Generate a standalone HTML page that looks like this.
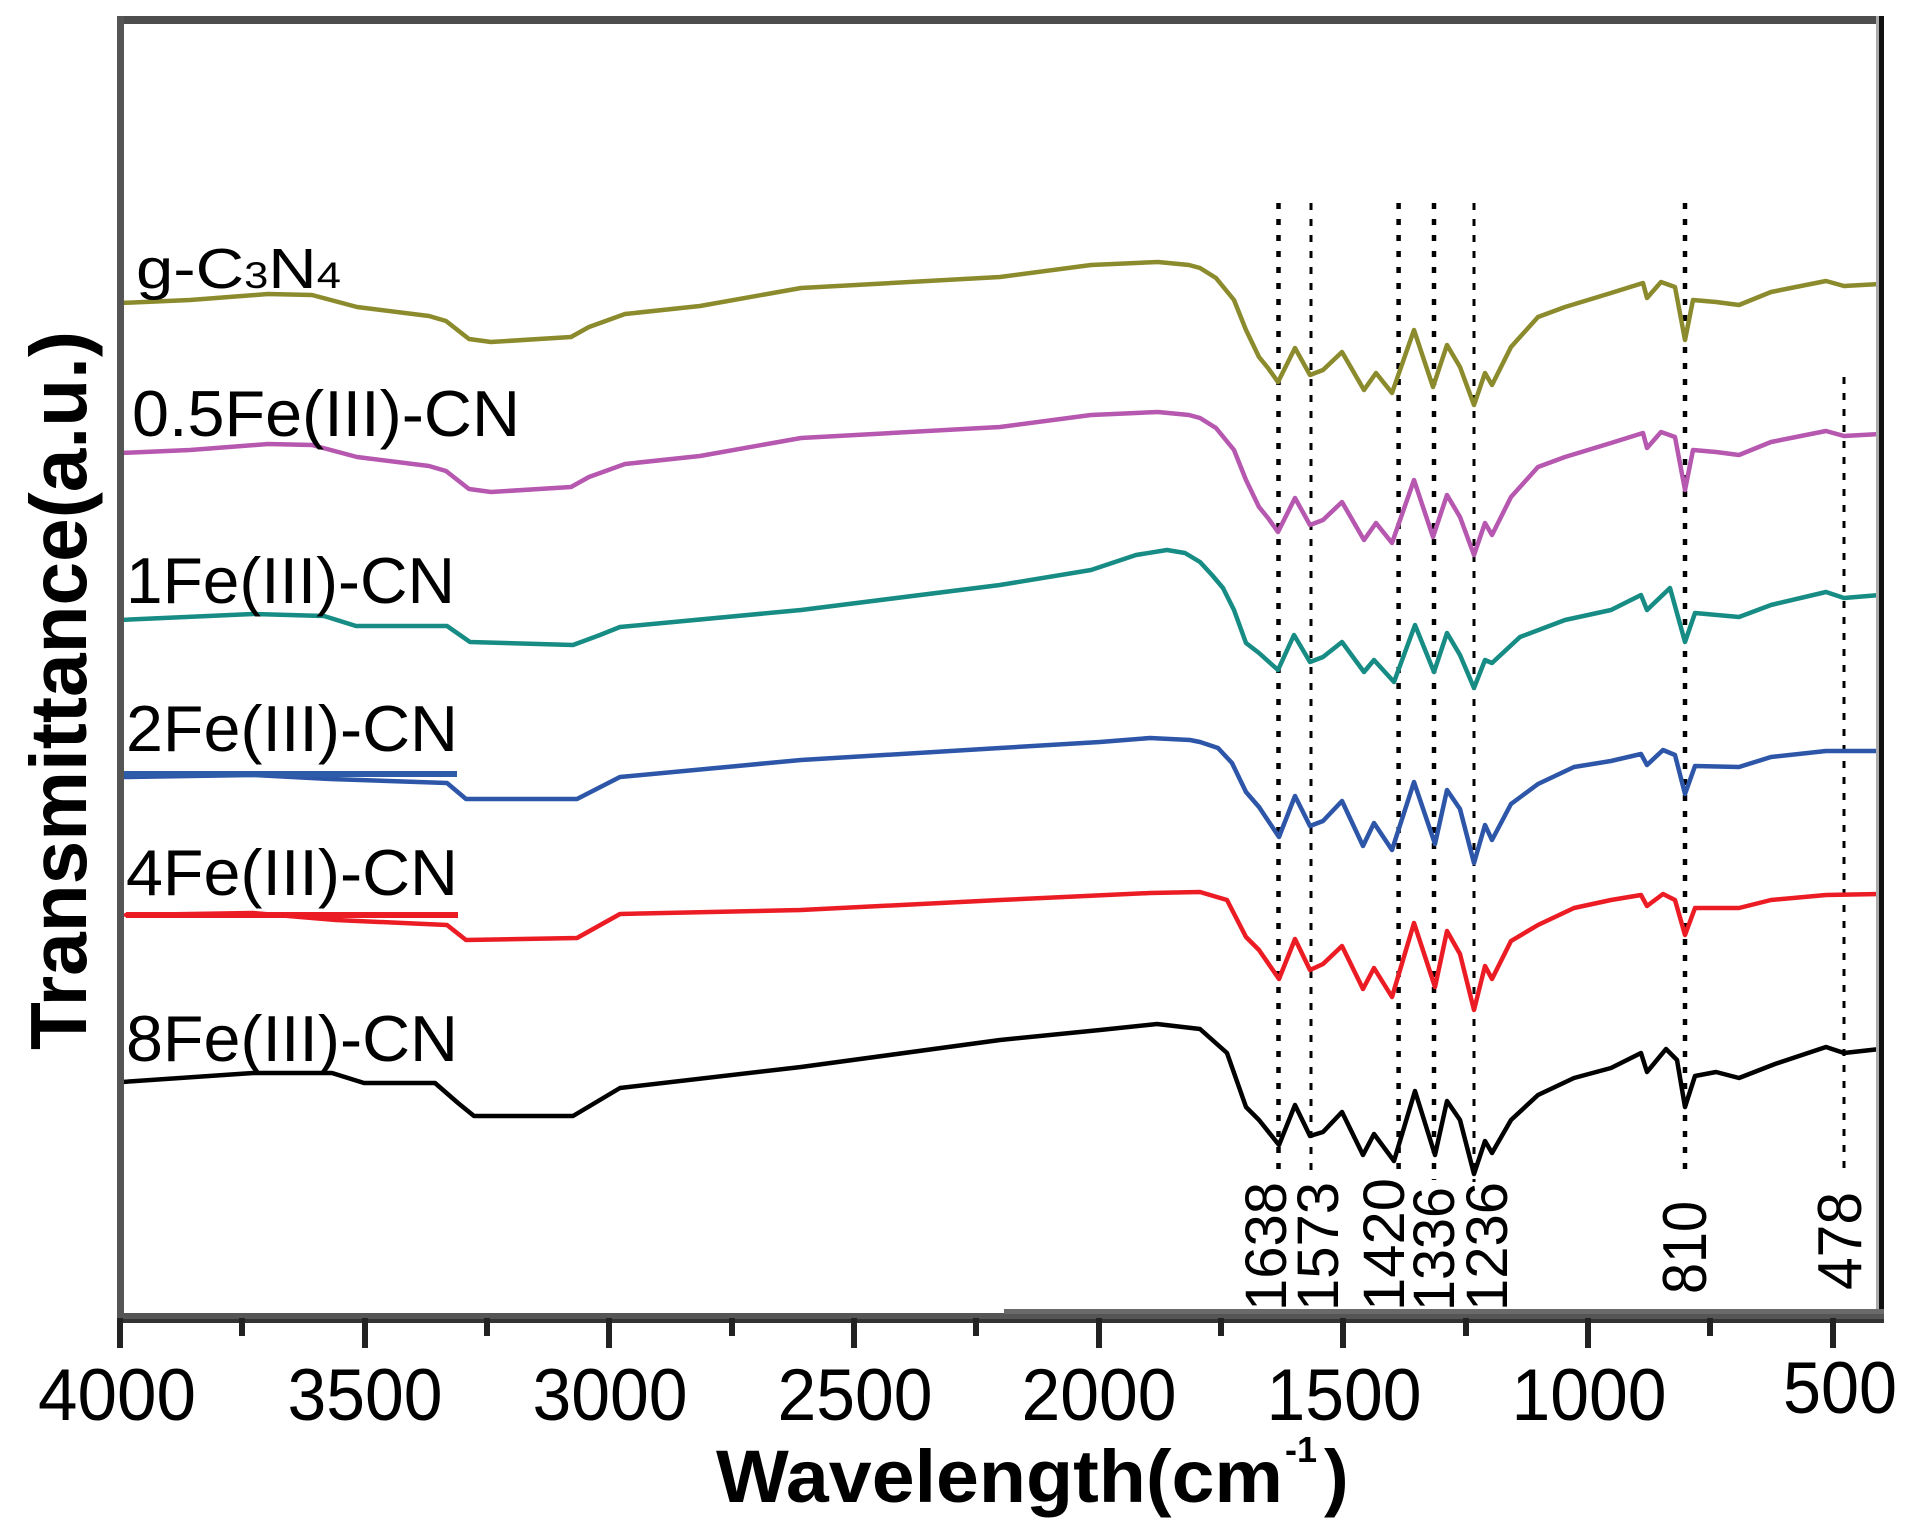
<!DOCTYPE html>
<html>
<head>
<meta charset="utf-8">
<style>
html,body{margin:0;padding:0;background:#fff;}
svg{display:block;}
text{font-family:"Liberation Sans",Arial,sans-serif;fill:#000;}
</style>
</head>
<body>
<svg width="1908" height="1540" viewBox="0 0 1908 1540" xmlns="http://www.w3.org/2000/svg">
<rect x="0" y="0" width="1908" height="1540" fill="#fff"/>
<defs>
<path id="olive" fill="none" d="M120,303 L190,300 L268,294 L312,295 L357,307 L429,316 L446,321 L469,339 L491,342 L571,337 L589,327 L625,314 L700,306 L801,288 L1000,277 L1091,265 L1158,262 L1189,265 L1200,268 L1216,278 L1234,300 L1246,330 L1259,357 L1268,368 L1278,382 L1295,348 L1310,375 L1323,370 L1342,352 L1364,390 L1376,373 L1392,393 L1414,330 L1433,387 L1447,345 L1460,367 L1474,405 L1485,373 L1492,385 L1511,347 L1538,317 L1565,307 L1611,293 L1643,283 L1647,298 L1661,282 L1675,287 L1685,340 L1693,300 L1716,302 L1739,305 L1771,292 L1826,281 L1844,286 L1880,284"/>
</defs>

<!-- dotted reference lines -->
<g stroke="#000" fill="none">
<line x1="1278.5" y1="203" x2="1278.5" y2="1176" stroke-width="4.5" stroke-dasharray="6 10"/>
<line x1="1311" y1="203" x2="1311" y2="1178" stroke-width="3" stroke-dasharray="7 9"/>
<line x1="1398.6" y1="203" x2="1398.6" y2="1178" stroke-width="4.5" stroke-dasharray="6 10"/>
<line x1="1434" y1="203" x2="1434" y2="1180" stroke-width="4.5" stroke-dasharray="6 10"/>
<line x1="1474" y1="203" x2="1474" y2="1182" stroke-width="3" stroke-dasharray="7 9"/>
<line x1="1685" y1="203" x2="1685" y2="1178" stroke-width="4.5" stroke-dasharray="6 10"/>
<line x1="1844" y1="377" x2="1844" y2="1170" stroke-width="3" stroke-dasharray="7 9"/>
</g>

<!-- series -->
<g fill="none" stroke-width="4.5" stroke-linejoin="round" stroke-linecap="round">
<use href="#olive" stroke="#8b8b2d"/>
<use href="#olive" transform="translate(0,150)" stroke="#b657b0"/>
<path stroke="#178c84" d="M120,620 L253,614 L324,616 L356,626 L447,626 L470,642 L573,645 L600,635 L620,627 L801,610 L1000,585 L1091,570 L1136,555 L1167,550 L1185,553 L1200,562 L1212,575 L1223,588 L1234,610 L1246,643 L1259,653 L1278,670 L1294,635 L1310,662 L1323,657 L1342,642 L1364,672 L1374,660 L1394,682 L1415,625 L1434,672 L1447,633 L1460,655 L1474,688 L1485,660 L1492,663 L1520,637 L1565,620 L1611,610 L1641,595 L1647,610 L1670,588 L1685,642 L1695,613 L1739,617 L1771,605 L1826,592 L1844,598 L1880,595"/>
<path stroke="#2d56a8" d="M124,777 L253,775 L330,779 L447,783 L466,799 L577,799 L620,777 L801,760 L1000,748 L1100,742 L1150,738 L1190,740 L1200,742 L1218,748 L1232,763 L1246,792 L1259,807 L1279,837 L1295,796 L1310,826 L1323,821 L1342,801 L1363,846 L1374,823 L1392,850 L1414,782 L1435,844 L1447,790 L1460,809 L1474,863 L1485,825 L1492,840 L1511,804 L1538,784 L1574,767 L1611,761 L1641,754 L1647,765 L1663,750 L1675,755 L1685,794 L1695,766 L1739,767 L1771,757 L1826,751 L1880,751"/>
<path stroke="#ec1c24" d="M126,915 L253,913 L336,920 L447,925 L466,940 L577,938 L620,914 L801,910 L1000,900 L1150,893 L1200,892 L1227,900 L1246,937 L1259,950 L1279,979 L1295,939 L1310,970 L1323,964 L1342,946 L1363,989 L1374,968 L1392,997 L1414,923 L1435,987 L1447,931 L1460,954 L1474,1010 L1485,966 L1492,979 L1511,941 L1538,925 L1574,908 L1611,900 L1641,895 L1647,906 L1663,894 L1675,900 L1685,935 L1695,908 L1739,908 L1771,900 L1826,895 L1880,894"/>
<path stroke="#000" d="M122,1082 L253,1073 L332,1073 L364,1083 L435,1083 L458,1103 L474,1116 L573,1116 L620,1088 L801,1067 L1000,1040 L1100,1030 L1157,1024 L1200,1029 L1227,1053 L1246,1107 L1259,1120 L1279,1145 L1295,1105 L1310,1136 L1323,1132 L1342,1112 L1363,1155 L1374,1134 L1394,1161 L1415,1091 L1435,1155 L1447,1101 L1460,1120 L1474,1174 L1485,1141 L1492,1153 L1511,1120 L1538,1095 L1574,1078 L1611,1068 L1641,1053 L1647,1072 L1666,1049 L1677,1060 L1685,1107 L1695,1076 L1716,1072 L1739,1078 L1775,1064 L1826,1047 L1844,1053 L1880,1049"/>
</g>

<!-- legend underlines -->
<rect x="124" y="771" width="333" height="6" fill="#2d5ca8"/>
<rect x="126" y="912" width="332" height="6" fill="#ec1c24"/>

<!-- series labels -->
<text x="136" y="288" font-size="57" textLength="205" lengthAdjust="spacingAndGlyphs">g-C<tspan font-size="37">3</tspan>N<tspan font-size="37">4</tspan></text>
<text x="132" y="436" font-size="65" textLength="388" lengthAdjust="spacingAndGlyphs">0.5Fe(III)-CN</text>
<text x="126" y="603" font-size="65" textLength="329" lengthAdjust="spacingAndGlyphs">1Fe(III)-CN</text>
<text x="126" y="751" font-size="65" textLength="332" lengthAdjust="spacingAndGlyphs">2Fe(III)-CN</text>
<text x="126" y="895" font-size="65" textLength="332" lengthAdjust="spacingAndGlyphs">4Fe(III)-CN</text>
<text x="126" y="1061" font-size="65" textLength="332" lengthAdjust="spacingAndGlyphs">8Fe(III)-CN</text>

<!-- peak labels (rotated) -->
<g font-size="58">
<text transform="translate(1286,1311) rotate(-90)" textLength="129" lengthAdjust="spacingAndGlyphs">1638</text>
<text transform="translate(1338,1311) rotate(-90)" textLength="129" lengthAdjust="spacingAndGlyphs">1573</text>
<text transform="translate(1404,1311) rotate(-90)" textLength="133" lengthAdjust="spacingAndGlyphs">1420</text>
<text transform="translate(1454,1311) rotate(-90)" textLength="124" lengthAdjust="spacingAndGlyphs">1336</text>
<text transform="translate(1507,1311) rotate(-90)" textLength="129" lengthAdjust="spacingAndGlyphs">1236</text>
<text transform="translate(1706,1294) rotate(-90)" font-size="62" textLength="93" lengthAdjust="spacingAndGlyphs">810</text>
<text transform="translate(1861,1290) rotate(-90)" font-size="62" textLength="98" lengthAdjust="spacingAndGlyphs">478</text>
</g>

<!-- frame -->
<rect x="117" y="16" width="1767" height="8" fill="#4d4d4d"/>
<rect x="117" y="16" width="7" height="1307" fill="#555"/>
<rect x="1876" y="16" width="3" height="1307" fill="#aaa"/>
<rect x="1879" y="16" width="5" height="1307" fill="#111"/>
<rect x="117" y="1313" width="1767" height="10" fill="#555"/>
<rect x="1004" y="1309" width="880" height="5" fill="#6a6a6a"/>
<rect x="117" y="1319" width="1767" height="4" fill="#333"/>

<!-- ticks -->
<g fill="#222">
<rect x="117" y="1318" width="6" height="30"/>
<rect x="362" y="1318" width="6" height="30"/>
<rect x="606" y="1318" width="6" height="30"/>
<rect x="851" y="1318" width="6" height="30"/>
<rect x="1096" y="1318" width="6" height="30"/>
<rect x="1340" y="1318" width="6" height="30"/>
<rect x="1585" y="1318" width="6" height="30"/>
<rect x="1830" y="1318" width="6" height="30"/>
<rect x="239" y="1318" width="6" height="18"/>
<rect x="484" y="1318" width="6" height="18"/>
<rect x="729" y="1318" width="6" height="18"/>
<rect x="973" y="1318" width="6" height="18"/>
<rect x="1218" y="1318" width="6" height="18"/>
<rect x="1463" y="1318" width="6" height="18"/>
<rect x="1707" y="1318" width="6" height="18"/>
</g>

<!-- tick labels -->
<g font-size="73" text-anchor="middle">
<text x="117" y="1420" textLength="158" lengthAdjust="spacingAndGlyphs">4000</text>
<text x="365" y="1420" textLength="155" lengthAdjust="spacingAndGlyphs">3500</text>
<text x="610" y="1420" textLength="155" lengthAdjust="spacingAndGlyphs">3000</text>
<text x="855" y="1420" textLength="155" lengthAdjust="spacingAndGlyphs">2500</text>
<text x="1099" y="1420" textLength="155" lengthAdjust="spacingAndGlyphs">2000</text>
<text x="1344" y="1420" textLength="155" lengthAdjust="spacingAndGlyphs">1500</text>
<text x="1589" y="1420" textLength="155" lengthAdjust="spacingAndGlyphs">1000</text>
<text x="1840" y="1413" textLength="114" lengthAdjust="spacingAndGlyphs">500</text>
</g>

<!-- axis titles -->
<text x="716" y="1502" font-size="74" font-weight="bold" textLength="567" lengthAdjust="spacingAndGlyphs">Wavelength(cm</text>
<text x="1285" y="1462" font-size="36" font-weight="bold">-1</text>
<text x="1324" y="1502" font-size="74" font-weight="bold">)</text>
<text transform="translate(86,1050) rotate(-90)" font-size="80" font-weight="bold" textLength="719" lengthAdjust="spacingAndGlyphs">Transmittance(a.u.)</text>
</svg>
</body>
</html>
